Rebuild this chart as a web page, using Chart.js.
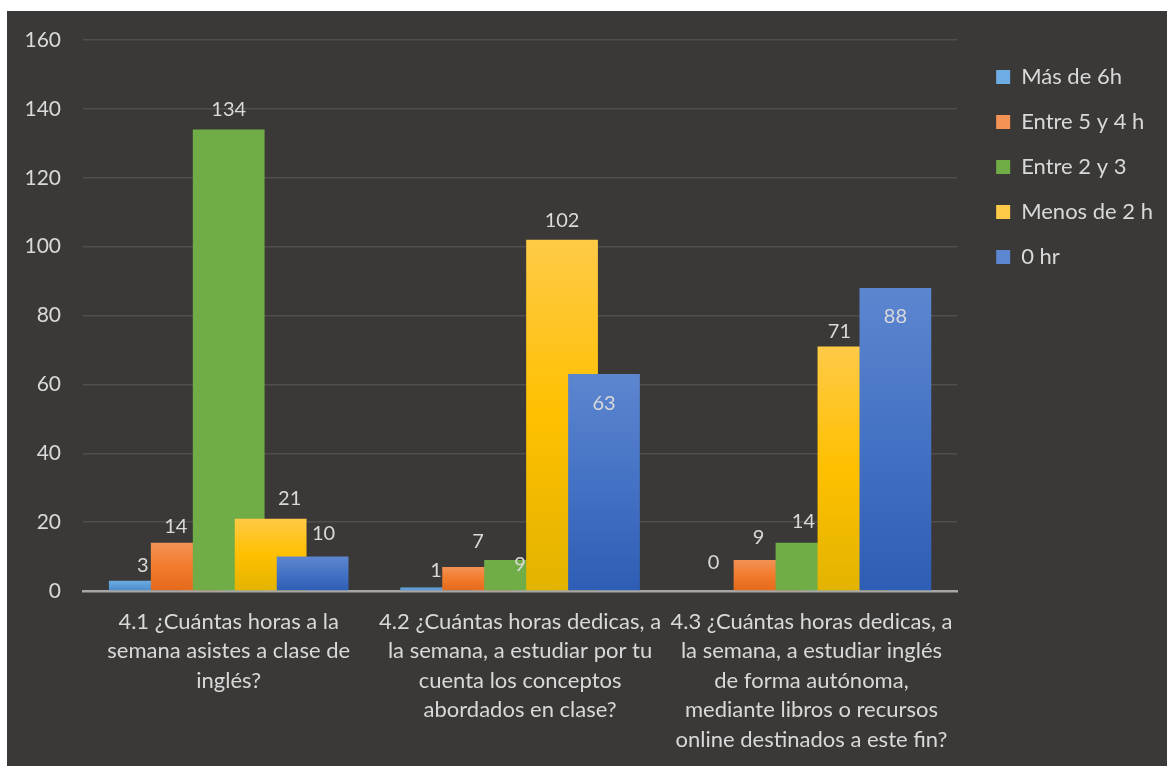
<!DOCTYPE html>
<html>
<head>
<meta charset="utf-8">
<script src="https://cdn.jsdelivr.net/npm/chart.js@4.4.0/dist/chart.umd.min.js"></script>
<style>
  html, body { margin: 0; padding: 0; background: #ffffff; }
  #wrap { position: absolute; left: 7px; top: 11px; width: 1160px; height: 755px; background: #3a3937; }
</style>
</head>
<body>
<div id="wrap"><canvas id="chart"></canvas></div>
<script>
// categorías (etiquetas del eje x, ya partidas en líneas)
const categories = [
    ['4.1 ¿Cuántas horas a la', 'semana asistes a clase de', 'inglés?'],
    ['4.2 ¿Cuántas horas dedicas, a', 'la semana, a estudiar por tu', 'cuenta los conceptos', 'abordados en clase?'],
    ['4.3 ¿Cuántas horas dedicas, a', 'la semana, a estudiar inglés', 'de forma autónoma,', 'mediante libros o recursos', 'online destinados a este fin?']
];
const seriesNames = ['Más de 6h', 'Entre 5 y 4 h', 'Entre 2 y 3', 'Menos de 2 h', '0 hr'];
const masDe6h   = [3, 1, 0];
const entre5y4  = [14, 7, 9];
const entre2y3  = [134, 9, 14];
const menosDe2  = [21, 102, 71];
const ceroHr    = [10, 63, 88];
const yMin = 0, yMax = 160, yStep = 20;

// colores: arriba, medio, abajo (degradado tipo Excel)
const seriesColors = [
    ['#6eade3', '#5b9bd5', '#4a8bcb'],
    ['#f39255', '#f27b2c', '#e4691b'],
    ['#70ad47', '#70ad47', '#70ad47'],
    ['#ffca47', '#ffc000', '#e2b300'],
    ['#5d86d0', '#4472c4', '#2e5db5']
];

// pequeños ajustes de posición de las etiquetas (dx, dy en px), como en el original
const labelNudge = [
    [[-2, 4], [0, 2], [-14, -9]],
    [[-11, 3], [0, -6], [-11, -3]],
    [[0, -1], [0, 24], [-8, -2]],
    [[19, -1], [0, 0], [-14, 4]],
    [[11, -4], [0, 49], [0, 48]]
];

const FONT = 'Lato, "Open Sans", sans-serif';
const TEXT = '#d9d9d9';

function barGradient(stops) {
    return ctx => {
        const chart = ctx.chart;
        const y = chart.scales.y;
        if (ctx.type !== 'data' || !chart.chartArea || !y) return stops[1];
        const top = y.getPixelForValue(ctx.raw);
        const bottom = y.getPixelForValue(0);
        if (!(bottom - top > 1)) return stops[1];
        const g = chart.ctx.createLinearGradient(0, top, 0, bottom);
        g.addColorStop(0, stops[0]);
        g.addColorStop(0.5, stops[1]);
        g.addColorStop(1, stops[2]);
        return g;
    };
}

// dibuja las barras en orden (la última serie encima) y luego las etiquetas
const drawOrderPlugin = {
    id: 'drawOrder',
    beforeDatasetsDraw(chart) {
        const ctx = chart.ctx;
        chart.data.datasets.forEach((ds, i) => {
            const meta = chart.getDatasetMeta(i);
            if (meta.visible) meta.controller.draw();
        });
        ctx.save();
        ctx.font = '20px ' + FONT;
        ctx.fillStyle = TEXT;
        ctx.textAlign = 'center';
        ctx.textBaseline = 'middle';
        chart.data.datasets.forEach((ds, i) => {
            const meta = chart.getDatasetMeta(i);
            if (!meta.visible) return;
            meta.data.forEach((bar, j) => {
                const n = labelNudge[i][j];
                ctx.fillText(String(ds.data[j]), bar.x + n[0], bar.y - 19 + n[1]);
            });
        });
        ctx.restore();
        return false;
    }
};

const allSeries = [masDe6h, entre5y4, entre2y3, menosDe2, ceroHr];

new Chart(document.getElementById('chart'), {
    type: 'bar',
    data: {
        labels: categories,
        datasets: allSeries.map((vals, i) => ({
            label: seriesNames[i],
            data: vals,
            backgroundColor: barGradient(seriesColors[i]),
            borderWidth: 0,
            categoryPercentage: 0.72,
            barPercentage: 1.71
        }))
    },
    options: {
        responsive: true,
        maintainAspectRatio: false,
        animation: false,
        layout: { padding: { top: 29, right: 4, left: 0, bottom: 0 } },
        scales: {
            x: {
                grid: { display: false },
                border: { display: true, color: '#a6a6a6', width: 2.5 },
                ticks: {
                    color: TEXT,
                    font: { family: FONT, size: 22, lineHeight: 29.5 / 22 },
                    padding: 8,
                    autoSkip: false,
                    maxRotation: 0,
                    minRotation: 0
                },
                afterFit(scale) { scale.height = 175; }
            },
            y: {
                min: yMin,
                max: yMax,
                grid: { color: '#504f4d', lineWidth: 1.5, drawTicks: true, tickLength: 22, tickColor: 'rgba(0,0,0,0)' },
                border: { display: false },
                ticks: {
                    stepSize: yStep,
                    color: TEXT,
                    padding: 0,
                    font: { family: FONT, size: 21 }
                },
                afterFit(scale) { scale.width = 76; }
            },
            // espacio vacío entre el área de trazado y la leyenda
            gap: {
                type: 'linear',
                position: 'right',
                display: true,
                grid: { display: false },
                border: { display: false },
                ticks: { display: false },
                afterFit(scale) { scale.width = 16; }
            }
        },
        plugins: {
            legend: {
                position: 'right',
                align: 'start',
                title: { display: true, text: '', font: { size: 1, lineHeight: 1 }, padding: { top: 2, bottom: 0 } },
                labels: {
                    boxWidth: 14,
                    boxHeight: 14,
                    padding: 23,
                    color: TEXT,
                    font: { family: FONT, size: 22 }
                }
            },
            tooltip: { enabled: false }
        }
    },
    plugins: [drawOrderPlugin]
});
</script>
</body>
</html>
